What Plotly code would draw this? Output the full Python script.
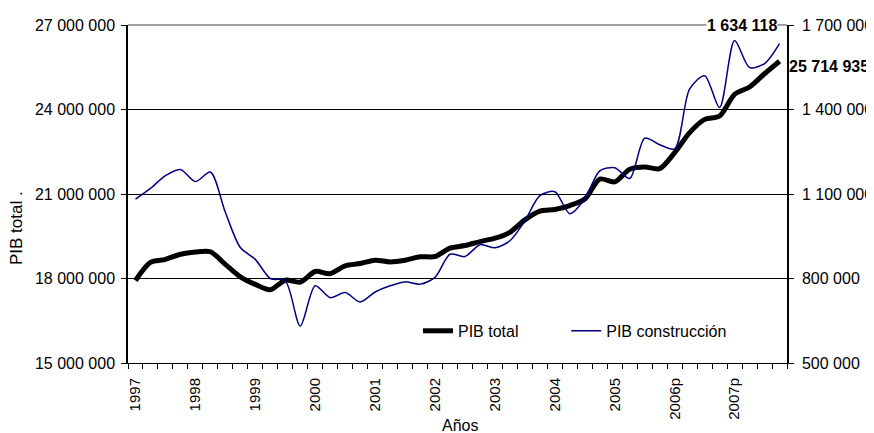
import plotly.graph_objects as go

# ---------------- data ----------------
years = ["1997", "1998", "1999", "2000", "2001", "2002", "2003",
         "2004", "2005", "2006p", "2007p"]
quarters = [f"{y}-T{q}" for y in years for q in range(1, 5)]

pib_total = [17930000, 18570000, 18680000, 18860000, 18940000, 18950000,
             18500000, 18060000, 17790000, 17600000, 17940000, 17870000,
             18250000, 18170000, 18450000, 18530000, 18650000, 18590000,
             18650000, 18770000, 18780000, 19080000, 19170000, 19310000,
             19430000, 19640000, 20080000, 20390000, 20450000, 20590000,
             20820000, 21530000, 21430000, 21880000, 21960000, 21900000,
             22470000, 23180000, 23650000, 23770000, 24540000, 24800000,
             25270000, 25714935]

pib_construccion = [1082000, 1120000, 1165000, 1187000, 1144000, 1178000,
                    1035000, 910000, 868000, 800000, 792000, 631000,
                    774000, 732000, 750000, 717000, 752000, 774000,
                    788000, 780000, 804000, 886000, 878000, 920000,
                    909000, 934000, 1005000, 1094000, 1108000, 1030000,
                    1083000, 1182000, 1193000, 1155000, 1298000, 1275000,
                    1260000, 1473000, 1520000, 1407000, 1645000, 1549000,
                    1563000, 1634118]

left_ticks = [15000000, 18000000, 21000000, 24000000, 27000000]
right_ticks = [500000, 800000, 1100000, 1400000, 1700000]

# ---------------- figure ----------------
FONT = "Liberation Sans, Arial, sans-serif"
xi = list(range(len(quarters)))
year_pos = [quarters.index(f"{y}-T1") for y in years]
bounds = [i - 0.5 for i in range(len(quarters) + 1)]


def fmt(v):
    return f"{v:,.0f}".replace(",", " ")


fig = go.Figure()
fig.add_trace(go.Scatter(
    x=xi, y=pib_total, name="PIB total", mode="lines",
    line=dict(color="black", width=5, shape="spline", smoothing=0.8),
    yaxis="y", legend="legend"))
fig.add_trace(go.Scatter(
    x=xi, y=pib_construccion, name="PIB construcción", mode="lines",
    line=dict(color="#000080", width=1.5, shape="spline", smoothing=0.8),
    yaxis="y2", legend="legend2"))

# the page body adds an 8px offset, so the figure is 8px smaller
fig.update_layout(
    width=866, height=425,
    margin=dict(l=120, r=87, t=17, b=70, autoexpand=False),
    paper_bgcolor="white", plot_bgcolor="white",
    font=dict(family=FONT, size=16, color="black"),
    showlegend=True,
    legend=dict(orientation="h", x=0.44, y=0.095, xanchor="left",
                yanchor="middle", bgcolor="rgba(0,0,0,0)",
                font=dict(size=16)),
    legend2=dict(orientation="h", x=0.665, y=0.095, xanchor="left",
                 yanchor="middle", bgcolor="rgba(0,0,0,0)",
                 font=dict(size=16)),
    xaxis=dict(
        automargin=False,
        range=[-0.5, len(quarters) - 0.5],
        tickmode="array", tickvals=year_pos, ticktext=years,
        tickangle=-90, ticks="outside", ticklen=8,
        tickcolor="rgba(0,0,0,0)", tickfont=dict(size=15),
        showgrid=False, zeroline=False,
        showline=True, linecolor="black", linewidth=1,
        minor=dict(tickmode="array", tickvals=bounds, ticks="outside",
                   ticklen=5, tickcolor="black", showgrid=False),
    ),
    yaxis=dict(
        automargin=False,
        range=[15000000, 27000000], tickmode="array", tickvals=left_ticks,
        ticktext=[fmt(v) for v in left_ticks],
        ticks="outside", ticklen=5, tickcolor="black",
        ticklabelstandoff=3,
        showgrid=True, gridcolor="black", gridwidth=1,
        zeroline=False, showline=True, linecolor="black", linewidth=1.5,
        tickfont=dict(size=16),
    ),
    yaxis2=dict(
        automargin=False,
        range=[500000, 1700000], overlaying="y", side="right",
        tickmode="array", tickvals=right_ticks,
        ticktext=[fmt(v) for v in right_ticks],
        ticks="outside", ticklen=5, tickcolor="black",
        ticklabelstandoff=5,
        showgrid=False, zeroline=False,
        showline=True, linecolor="black", linewidth=1.5,
        tickfont=dict(size=16),
    ),
    shapes=[dict(type="line", xref="paper", yref="paper", x0=0, x1=1,
                 y0=1, y1=1, line=dict(color="#a0a0a0", width=2),
                 layer="above")],
    annotations=[
        dict(text="PIB total .", xref="paper", yref="paper",
             x=-0.168, y=0.40, textangle=-90, showarrow=False,
             font=dict(size=17), xanchor="center", yanchor="middle"),
        dict(text="Años", xref="paper", yref="paper", x=0.504, y=-0.216,
             showarrow=False, font=dict(size=16), xanchor="center",
             yanchor="bottom"),
        dict(text=f"<b>{fmt(pib_construccion[-1])}</b>", xref="paper",
             yref="paper", x=0.987, y=1, xanchor="right", yanchor="middle",
             showarrow=False, bgcolor="white", font=dict(size=16),
             borderpad=0),
        dict(text=f"<b>{fmt(pib_total[-1])}</b>", xref="paper", yref="y",
             x=1.0, y=pib_total[-1], xanchor="left", yanchor="middle",
             yshift=-5, showarrow=False, font=dict(size=16)),
    ],
)

fig.write_html("out.html")
